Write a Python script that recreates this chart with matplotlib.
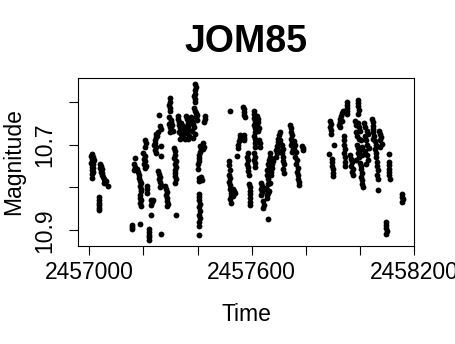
import matplotlib
matplotlib.use("Agg")
import matplotlib.pyplot as plt

plt.rcParams['font.family'] = ['Liberation Sans', 'DejaVu Sans']

# ---- data ----
t1 = [2457005, 2457010, 2457014, 2457008, 2457012, 2457016, 2457007, 2457013, 2457010, 2457015, 2457009, 2457014, 2457011,
      2457011,
      2457040, 2457044, 2457041, 2457046, 2457043, 2457048, 2457045,
      2457052, 2457055, 2457058, 2457054, 2457060, 2457068,
      2457034, 2457036, 2457034, 2457037, 2457035, 2457036]
m1 = [10.726, 10.722, 10.728, 10.733, 10.738, 10.735, 10.744, 10.746, 10.752, 10.755, 10.760, 10.763, 10.768,
      10.777,
      10.746, 10.750, 10.755, 10.758, 10.763, 10.766, 10.771,
      10.775, 10.780, 10.786, 10.790, 10.784, 10.796,
      10.823, 10.830, 10.836, 10.842, 10.848, 10.853]

t2 = [2457156, 2457158, 2457157, 2457188,
      2457170, 2457166, 2457168, 2457165,
      2457175, 2457178, 2457182, 2457185, 2457187, 2457190, 2457188, 2457192, 2457190,
      2457188, 2457189, 2457190, 2457188, 2457190,
      2457200, 2457204, 2457202, 2457206, 2457203, 2457208, 2457205,
      2457207, 2457208, 2457206,
      2457212, 2457214, 2457213,
      2457226, 2457230, 2457234, 2457229,
      2457228,
      2457221, 2457222, 2457221, 2457222, 2457221,
      2457240, 2457243, 2457246, 2457248, 2457250, 2457244, 2457247, 2457242, 2457245, 2457252,
      2457258, 2457263,
      2457255, 2457258, 2457262, 2457257, 2457260, 2457264, 2457261,
      2457262, 2457264, 2457263, 2457265,
      2457281, 2457284, 2457287, 2457285, 2457288, 2457286, 2457289, 2457287,
      2457297, 2457298, 2457296, 2457299, 2457298, 2457295, 2457300, 2457303, 2457293, 2457306, 2457297, 2457302, 2457308, 2457299,
      2457313, 2457315, 2457317, 2457314, 2457319, 2457316, 2457320, 2457315, 2457318, 2457316, 2457319, 2457317,
      2457321,
      2457328, 2457330, 2457333, 2457336, 2457331, 2457338, 2457341, 2457335, 2457328, 2457339,
      2457345, 2457348, 2457351, 2457347, 2457352,
      2457357, 2457360, 2457363, 2457366, 2457369, 2457362, 2457370, 2457365,
      2457375, 2457378, 2457382, 2457386, 2457380, 2457389, 2457384,
      2457392, 2457393, 2457390, 2457391, 2457388, 2457392, 2457389,
      2457387, 2457391, 2457396, 2457399, 2457393, 2457397,
      2457410, 2457412, 2457408, 2457405, 2457407, 2457404, 2457402,
      2457400,
      2457404, 2457412, 2457416, 2457406,
      2457404, 2457406, 2457405, 2457408, 2457406, 2457409, 2457407, 2457408, 2457407, 2457405, 2457406,
      2457420, 2457422, 2457419,
      2457426, 2457427, 2457425]
m2 = [10.887, 10.893, 10.897, 10.885,
      10.731, 10.745, 10.752, 10.760,
      10.757, 10.764, 10.770, 10.777, 10.784, 10.790, 10.797, 10.803, 10.808,
      10.817, 10.824, 10.830, 10.836, 10.843,
      10.720, 10.726, 10.733, 10.738, 10.745, 10.750, 10.754,
      10.690, 10.697, 10.705,
      10.796, 10.803, 10.812,
      10.829, 10.833, 10.830, 10.840,
      10.864,
      10.898, 10.904, 10.910, 10.916, 10.922,
      10.700, 10.690, 10.683, 10.676, 10.680, 10.696, 10.706, 10.712, 10.720, 10.672,
      10.631, 10.908,
      10.762, 10.768, 10.775, 10.781, 10.788, 10.794, 10.800,
      10.656, 10.663, 10.703, 10.726,
      10.797, 10.804, 10.810, 10.817, 10.824, 10.831, 10.838, 10.843,
      10.592, 10.600, 10.607, 10.614, 10.621, 10.637, 10.643, 10.648, 10.652, 10.655, 10.660, 10.664, 10.668, 10.672,
      10.708, 10.716, 10.724, 10.731, 10.738, 10.745, 10.752, 10.759, 10.766, 10.774, 10.781, 10.789,
      10.864,
      10.640, 10.648, 10.655, 10.662, 10.670, 10.676, 10.682, 10.688, 10.633, 10.650,
      10.656, 10.664, 10.672, 10.680, 10.688,
      10.633, 10.641, 10.650, 10.658, 10.666, 10.674, 10.680, 10.688,
      10.636, 10.645, 10.652, 10.660, 10.668, 10.676, 10.684,
      10.560, 10.567, 10.574, 10.582, 10.588, 10.594, 10.601,
      10.615, 10.621, 10.626, 10.631, 10.636, 10.642,
      10.703, 10.710, 10.717, 10.724, 10.731, 10.738, 10.745,
      10.757,
      10.778, 10.776, 10.782, 10.784,
      10.815, 10.822, 10.830, 10.838, 10.846, 10.855, 10.864, 10.872, 10.880, 10.889, 10.910,
      10.697, 10.705, 10.711,
      10.634, 10.641, 10.648]

t3 = [2457521,
      2457518, 2457516, 2457519, 2457517, 2457520, 2457518, 2457521, 2457519, 2457522, 2457524, 2457521, 2457523,
      2457530, 2457534, 2457538, 2457532,
      2457548, 2457551, 2457553, 2457556, 2457558,
      2457547,
      2457568, 2457570, 2457572, 2457570, 2457574,
      2457570, 2457573, 2457571,
      2457585, 2457583, 2457587, 2457584, 2457588, 2457586, 2457589,
      2457591, 2457593, 2457592, 2457594, 2457593, 2457595, 2457594,
      2457608, 2457610, 2457609, 2457611, 2457610, 2457612, 2457611,
      2457618, 2457622, 2457625, 2457620, 2457627, 2457623,
      2457610, 2457612, 2457611, 2457613,
      2457609, 2457611, 2457610, 2457612, 2457611,
      2457628, 2457630, 2457629,
      2457634, 2457637, 2457635, 2457638, 2457636,
      2457643, 2457645, 2457642,
      2457652, 2457656, 2457660, 2457655, 2457663, 2457658,
      2457656, 2457660, 2457664, 2457668, 2457672, 2457658, 2457662, 2457666, 2457670, 2457674,
      2457676, 2457668, 2457664, 2457672, 2457678, 2457660, 2457665, 2457670, 2457666,
      2457662,
      2457690, 2457693, 2457696, 2457699, 2457702, 2457705, 2457694, 2457700, 2457706, 2457691, 2457697, 2457703,
      2457712, 2457715, 2457713, 2457717, 2457714, 2457718, 2457716, 2457719,
      2457742, 2457744, 2457746, 2457748, 2457745, 2457750, 2457747, 2457752, 2457749,
      2457756, 2457760, 2457758, 2457763, 2457761, 2457766, 2457764, 2457770, 2457768, 2457773, 2457771, 2457775, 2457774,
      2457786, 2457790, 2457788]
m3 = [10.621,
      10.738, 10.747, 10.760, 10.770, 10.779, 10.787, 10.795, 10.804, 10.812, 10.820, 10.828, 10.836,
      10.803, 10.808, 10.814, 10.820,
      10.707, 10.700, 10.692, 10.685, 10.678,
      10.727,
      10.612, 10.618, 10.625, 10.632, 10.637,
      10.678, 10.684, 10.690,
      10.720, 10.728, 10.736, 10.745, 10.753, 10.762, 10.770,
      10.791, 10.799, 10.808, 10.816, 10.825, 10.833, 10.841,
      10.622, 10.630, 10.638, 10.646, 10.654, 10.662, 10.670,
      10.633, 10.640, 10.648, 10.655, 10.662, 10.668,
      10.680, 10.688, 10.697, 10.705,
      10.720, 10.728, 10.736, 10.744, 10.752,
      10.690, 10.697, 10.705,
      10.790, 10.797, 10.804, 10.811, 10.818,
      10.832, 10.840, 10.848,
      10.801, 10.806, 10.812, 10.818, 10.808, 10.825,
      10.760, 10.745, 10.735, 10.728, 10.732, 10.770, 10.780, 10.790, 10.772, 10.755,
      10.745, 10.760, 10.752, 10.765, 10.738, 10.793, 10.770, 10.740, 10.720,
      10.874,
      10.712, 10.704, 10.695, 10.686, 10.678, 10.670, 10.720, 10.700, 10.690, 10.728, 10.712, 10.696,
      10.702, 10.710, 10.720, 10.728, 10.738, 10.746, 10.756, 10.766,
      10.655, 10.662, 10.670, 10.678, 10.686, 10.694, 10.702, 10.710, 10.718,
      10.692, 10.700, 10.710, 10.718, 10.728, 10.737, 10.746, 10.754, 10.763, 10.771, 10.780, 10.788, 10.794,
      10.703, 10.707, 10.712]

t4 = [2457887,
      2457890, 2457892, 2457891, 2457893, 2457892,
      2457896, 2457898, 2457897, 2457900, 2457899, 2457901,
      2457906,
      2457922, 2457925, 2457928, 2457931, 2457934, 2457937, 2457926, 2457933,
      2457941, 2457943, 2457942, 2457944, 2457943, 2457945, 2457944, 2457946,
      2457951, 2457953, 2457952, 2457954, 2457953,
      2457964, 2457967, 2457970, 2457968, 2457973, 2457971, 2457975,
      2457992, 2457994, 2457993, 2457995, 2457994,
      2457983, 2457987, 2457992, 2457997, 2458002, 2457985, 2457990, 2457996, 2458004, 2457988, 2457994, 2458000,
      2458008, 2457992, 2457998, 2457986, 2458006,
      2458002, 2458005, 2458003, 2458007, 2458004, 2458009, 2458006, 2458010,
      2458015, 2458020, 2458025, 2458030, 2458018, 2458023, 2458028, 2458033, 2458020, 2458026, 2458031, 2458024,
      2458046, 2458048, 2458047, 2458050, 2458049, 2458052, 2458050,
      2458056, 2458059, 2458057, 2458061, 2458059, 2458064, 2458062, 2458066, 2458064, 2458068,
      2458066,
      2458070, 2458074, 2458078, 2458073, 2458080, 2458076,
      2458106, 2458108, 2458107, 2458109, 2458108, 2458110, 2458108,
      2458097, 2458098, 2458097, 2458099, 2458098,
      2458155, 2458156, 2458158, 2458157]
m4 = [10.721,
      10.646, 10.653, 10.660, 10.667, 10.675,
      10.733, 10.741, 10.750, 10.758, 10.766, 10.774,
      10.701,
      10.655, 10.648, 10.640, 10.633, 10.627, 10.622, 10.660, 10.645,
      10.680, 10.690, 10.700, 10.710, 10.720, 10.730, 10.740, 10.750,
      10.600, 10.607, 10.614, 10.621, 10.628,
      10.725, 10.733, 10.741, 10.750, 10.757, 10.765, 10.772,
      10.596, 10.603, 10.611, 10.619, 10.628,
      10.645, 10.655, 10.650, 10.660, 10.668, 10.670, 10.680, 10.688, 10.690, 10.700, 10.708, 10.712,
      10.706, 10.720, 10.728, 10.735, 10.725,
      10.742, 10.750, 10.758, 10.766, 10.775, 10.783, 10.792, 10.800,
      10.650, 10.660, 10.668, 10.675, 10.680, 10.690, 10.700, 10.708, 10.715, 10.725, 10.735, 10.745,
      10.640, 10.648, 10.656, 10.664, 10.672, 10.680, 10.688,
      10.692, 10.700, 10.710, 10.720, 10.730, 10.740, 10.750, 10.760, 10.770, 10.780,
      10.805,
      10.668, 10.675, 10.682, 10.690, 10.698, 10.706,
      10.740, 10.748, 10.756, 10.764, 10.772, 10.780, 10.722,
      10.880, 10.887, 10.894, 10.901, 10.908,
      10.815, 10.822, 10.828, 10.835]

times = t1 + t2 + t3 + t4
mags = m1 + m2 + m3 + m4

x_ticks = [2457000, 2457200, 2457400, 2457600, 2457800, 2458000, 2458200]
x_labels = ["2457000", "", "", "2457600", "", "", "2458200"]
y_ticks = [10.6, 10.7, 10.8, 10.9]
y_labels = ["", "10.7", "", "10.9"]

# ---- figure ----
fig = plt.figure(figsize=(4.56, 3.44), dpi=100)
ax = fig.add_axes([78/456, 1 - 246/344, (414 - 78)/456, (246 - 78)/344])

ax.plot(times, mags, linestyle='none', marker='o', markersize=4.2, color='black', markeredgewidth=0)

ax.set_xlim(2456958, 2458200)
ax.set_ylim(10.9365, 10.545)

ax.set_xticks(x_ticks)
ax.set_xticklabels(x_labels)
ax.set_yticks(y_ticks)
ax.set_yticklabels(y_labels, rotation=90, va='center')

ax.tick_params(axis='both', direction='out', length=6.5, width=0.8, labelsize=16.5, colors='black')
ax.tick_params(axis='x', pad=4)
ax.tick_params(axis='y', pad=9)
for s in ax.spines.values():
    s.set_linewidth(0.8)
    s.set_color('black')

ax.set_title("JOM85", fontsize=27, fontweight='bold', pad=19)
ax.set_xlabel("Time", fontsize=16.5, labelpad=14)
ax.set_ylabel("Magnitude", fontsize=16.5, labelpad=6)

fig.savefig("out.png", dpi=100)
